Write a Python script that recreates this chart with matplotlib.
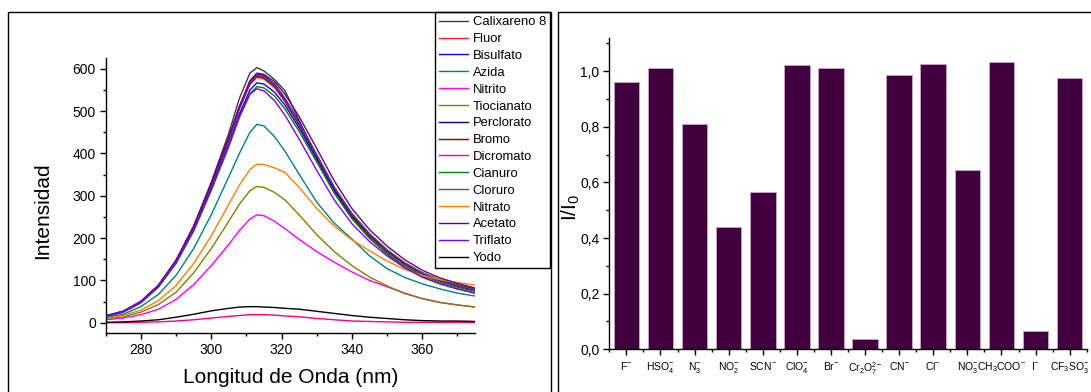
import matplotlib
matplotlib.use("Agg")
import matplotlib.pyplot as plt
import numpy as np
from matplotlib.patches import Rectangle
from matplotlib.ticker import FuncFormatter, MultipleLocator

plt.rcParams["font.family"] = ["Liberation Sans", "DejaVu Sans"]
plt.rcParams["mathtext.fontset"] = "custom"
plt.rcParams["mathtext.rm"] = "Liberation Sans"
plt.rcParams["mathtext.it"] = "Liberation Sans"

# --- emission spectra ---
wavelength = [270, 275, 280, 285, 290, 295, 300, 305, 308, 311, 313, 315, 318,
              321, 325, 330, 335, 340, 345, 350, 355, 360, 365, 370, 375]

calixareno = [14, 25, 48, 86, 145, 228, 332, 448, 530, 590, 603, 595, 575, 548, 478, 392, 312, 248, 200, 162, 130, 108, 92, 80, 70]
fluor = [16, 27, 50, 88, 146, 225, 324, 432, 505, 563, 580, 576, 556, 522, 466, 390, 314, 252, 205, 168, 138, 115, 99, 86, 76]
bisulfato = [15, 26, 48, 85, 142, 219, 316, 422, 493, 550, 567, 564, 545, 514, 460, 386, 312, 252, 206, 170, 140, 117, 101, 89, 80]
azida = [12, 20, 38, 67, 112, 175, 255, 345, 400, 450, 469, 465, 440, 405, 351, 285, 235, 198, 158, 128, 107, 92, 80, 70, 63]
nitrito = [7, 11, 19, 32, 55, 90, 135, 185, 218, 245, 255, 253, 240, 222, 197, 168, 143, 120, 100, 85, 70, 57, 48, 42, 37]
tiocianato = [9, 14, 25, 43, 72, 118, 175, 240, 280, 312, 322, 320, 308, 290, 255, 208, 168, 135, 108, 87, 69, 57, 48, 42, 37]
perclorato = [16, 27, 50, 88, 147, 227, 327, 437, 510, 570, 588, 584, 564, 530, 474, 397, 320, 258, 210, 172, 141, 118, 101, 89, 79]
bromo = [16, 27, 50, 88, 146, 226, 325, 434, 507, 566, 583, 579, 559, 525, 469, 392, 316, 254, 206, 169, 139, 116, 99, 87, 77]
dicromato = [0, 0, 1, 2, 4, 7, 11, 15, 17, 19, 19, 19, 18, 16, 14, 10, 7, 4, 3, 2, 1, 1, 1, 1, 1]
cianuro = [15, 25, 47, 84, 140, 216, 312, 416, 485, 541, 558, 555, 536, 505, 452, 380, 306, 246, 200, 164, 134, 112, 96, 84, 74]
cloruro = [16, 27, 50, 88, 146, 227, 326, 436, 509, 568, 586, 582, 562, 528, 472, 396, 320, 258, 210, 172, 142, 118, 101, 89, 79]
nitrato = [10, 17, 30, 52, 88, 140, 205, 280, 325, 362, 375, 374, 366, 355, 320, 270, 228, 196, 170, 146, 126, 112, 102, 95, 89]
acetato = [16, 27, 50, 89, 148, 228, 328, 438, 511, 572, 590, 587, 570, 540, 487, 412, 335, 270, 220, 181, 149, 124, 106, 93, 82]
triflato = [15, 26, 48, 86, 143, 220, 316, 420, 487, 540, 553, 548, 525, 490, 434, 360, 290, 234, 192, 158, 130, 108, 92, 80, 70]
yodo = [1, 2, 4, 7, 13, 20, 28, 34, 37, 38, 38, 37, 36, 34, 32, 27, 22, 17, 13, 10, 7, 5, 4, 4, 3]

series_names = ["Calixareno 8", "Fluor", "Bisulfato", "Azida", "Nitrito", "Tiocianato",
                "Perclorato", "Bromo", "Dicromato", "Cianuro", "Cloruro", "Nitrato",
                "Acetato", "Triflato", "Yodo"]
series_values = [calixareno, fluor, bisulfato, azida, nitrito, tiocianato, perclorato,
                 bromo, dicromato, cianuro, cloruro, nitrato, acetato, triflato, yodo]
series_colors = ["#3a3a3a", "#f02828", "#0000ff", "#008080", "#ff00ff", "#808000",
                 "#000080", "#800000", "#ff0080", "#008000", "#4848c0", "#ff8000",
                 "#700070", "#8000ff", "#000000"]

# --- relative intensity bars ---
anion_labels = [r"F$^{-}$", r"HSO$_4^{-}$", r"N$_3^{-}$", r"NO$_2^{-}$", r"SCN$^{-}$",
                r"ClO$_4^{-}$", r"Br$^{-}$", r"Cr$_2$O$_7^{2-}$", r"CN$^{-}$", r"Cl$^{-}$",
                r"NO$_3^{-}$", r"CH$_3$COO$^{-}$", r"I$^{-}$", r"CF$_3$SO$_3^{-}$"]
ratio_values = [0.961, 1.012, 0.811, 0.438, 0.564, 1.023, 1.010, 0.036, 0.986, 1.024,
                0.645, 1.033, 0.066, 0.975]

W, H = 1091, 392
fig = plt.figure(figsize=(W / 100, H / 100), dpi=100)


def fx(px):
    return px / W


def fy(py):
    return 1 - py / H


# panel frames
fig.add_artist(Rectangle((fx(8), -0.1), fx(551) - fx(8), fy(12.3) + 0.1,
                         transform=fig.transFigure, fill=False, lw=1.0, ec="black"))
fig.add_artist(Rectangle((fx(558), -0.1), 1.0, fy(12.3) + 0.1,
                         transform=fig.transFigure, fill=False, lw=1.0, ec="black"))


def style_axes(ax):
    for side in ["top", "right"]:
        ax.spines[side].set_visible(False)
    for side in ["left", "bottom"]:
        ax.spines[side].set_linewidth(1.0)
    ax.tick_params(which="major", direction="out", length=4, width=1, labelsize=10, pad=3)
    ax.tick_params(which="minor", direction="out", length=2.5, width=1)


# left: spectra
ax1 = fig.add_axes([fx(105.7), fy(333.3), fx(475) - fx(105.7), fy(58.3) - fy(333.3)])
for name, vals, c in zip(series_names, series_values, series_colors):
    ax1.plot(wavelength, vals, color=c, lw=1.0, label=name)
ax1.set_xlim(270, 375)
ax1.set_ylim(-25, 625)
ax1.xaxis.set_major_locator(MultipleLocator(20))
ax1.xaxis.set_minor_locator(MultipleLocator(10))
ax1.yaxis.set_major_locator(MultipleLocator(100))
ax1.yaxis.set_minor_locator(MultipleLocator(50))
style_axes(ax1)
ax1.set_xlabel("Longitud de Onda (nm)", fontsize=15)
ax1.set_ylabel("Intensidad", fontsize=15)
ax1.xaxis.set_label_coords(0.5, -0.125)
ax1.yaxis.set_label_coords(-0.145, 0.445)

leg = ax1.legend(loc="upper left", bbox_to_anchor=(fx(435), fy(12.3)),
                 bbox_transform=fig.transFigure, borderaxespad=0, fontsize=9.4,
                 frameon=True, fancybox=False, framealpha=1, edgecolor="black",
                 handlelength=2.2, handletextpad=0.4, labelspacing=0.36,
                 borderpad=0.3)
leg.get_frame().set_linewidth(1.0)

# right: bars
ax2 = fig.add_axes([fx(609.3), fy(349.3), fx(1086.7) - fx(609.3), fy(37.7) - fy(349.3)])
positions = np.arange(1, len(ratio_values) + 1)
ax2.bar(positions, ratio_values, width=0.75, color="#3f003d", edgecolor="#c8a8c8", linewidth=0.6)
ax2.set_xlim(0.5, 14.5)
ax2.set_ylim(0, 1.12)
ax2.set_xticks(positions)
ax2.set_xticklabels(anion_labels)
ax2.xaxis.set_minor_locator(MultipleLocator(1.0, offset=0.5))
ax2.yaxis.set_major_locator(MultipleLocator(0.2))
ax2.yaxis.set_minor_locator(MultipleLocator(0.1))
ax2.yaxis.set_major_formatter(FuncFormatter(lambda v, p: f"{v:.1f}".replace(".", ",")))
style_axes(ax2)
ax2.tick_params(axis="x", which="major", labelsize=7.5, pad=4)
ax2.set_ylabel("I/I$_0$", fontsize=15)
ax2.yaxis.set_label_coords(-0.057, 0.457)

fig.savefig("out.png", dpi=100)
